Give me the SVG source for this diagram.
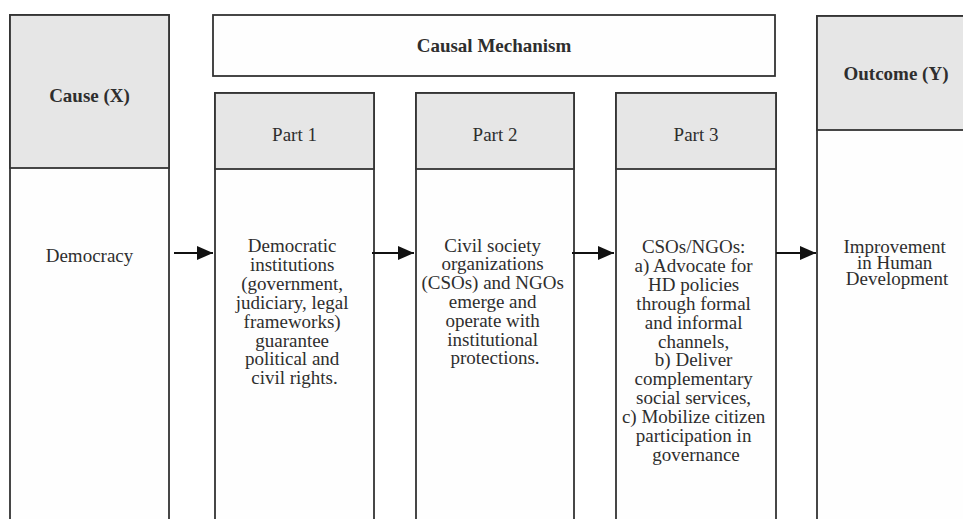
<svg xmlns="http://www.w3.org/2000/svg" width="963" height="519" viewBox="0 0 963 519">
<style>
.box{fill:#fefefe;stroke:#333;stroke-width:1.8}
.hdr{fill:#e6e6e6;stroke:#333;stroke-width:1.8}
.t{font-family:"Liberation Serif","Times New Roman",serif;font-size:19px;fill:#2e2e2e;text-anchor:middle}
.b{font-weight:bold}
.conn{stroke:#111;stroke-width:2.2;fill:none}
</style>
<defs>
<marker id="ah" markerWidth="16" markerHeight="14" refX="16" refY="7" orient="auto" markerUnits="userSpaceOnUse">
<path d="M0,0 L16,7 L0,14 Z" fill="#111"/>
</marker>
</defs>
<rect width="963" height="519" fill="#fff"/>
<g id="cause">
<rect class="box" x="10" y="15" width="159" height="520"/>
<rect class="hdr" x="10" y="15" width="159" height="153"/>
<text class="t b" x="89.5" y="101.5">Cause (X)</text>
<text class="t" x="89.5" y="262">Democracy</text>
</g>
<g id="mechanism">
<rect class="box" x="213" y="15" width="562" height="61"/>
<text class="t b" x="494" y="51.5">Causal Mechanism</text>
</g>
<g id="part1">
<rect class="box" x="215" y="93" width="159" height="442"/>
<rect class="hdr" x="215" y="93" width="159" height="76"/>
<text class="t" x="294.5" y="140.5">Part 1</text>
<text class="t" x="294.5" y="252">
<tspan x="294.5">Democratic</tspan>
<tspan x="294.5" dy="18.9">institutions</tspan>
<tspan x="294.5" dy="18.9">(government,</tspan>
<tspan x="294.5" dy="18.9">judiciary, legal</tspan>
<tspan x="294.5" dy="18.9">frameworks)</tspan>
<tspan x="294.5" dy="18.9">guarantee</tspan>
<tspan x="294.5" dy="18.9">political and</tspan>
<tspan x="294.5" dy="18.9">civil rights.</tspan>
</text>
</g>
<g id="part2">
<rect class="box" x="416" y="93" width="158" height="442"/>
<rect class="hdr" x="416" y="93" width="158" height="76"/>
<text class="t" x="495" y="140.5">Part 2</text>
<text class="t" x="495" y="251.5">
<tspan x="495">Civil society</tspan>
<tspan x="495" dy="18.8">organizations</tspan>
<tspan x="495" dy="18.8">(CSOs) and NGOs</tspan>
<tspan x="495" dy="18.8">emerge and</tspan>
<tspan x="495" dy="18.8">operate with</tspan>
<tspan x="495" dy="18.8">institutional</tspan>
<tspan x="495" dy="18.8">protections.</tspan>
</text>
</g>
<g id="part3">
<rect class="box" x="616" y="93" width="160" height="442"/>
<rect class="hdr" x="616" y="93" width="160" height="76"/>
<text class="t" x="696" y="140.5">Part 3</text>
<text class="t" x="696" y="253">
<tspan x="696">CSOs/NGOs:</tspan>
<tspan x="696" dy="18.9">a) Advocate for</tspan>
<tspan x="696" dy="18.9">HD policies</tspan>
<tspan x="696" dy="18.9">through formal</tspan>
<tspan x="696" dy="18.9">and informal</tspan>
<tspan x="696" dy="18.9">channels,</tspan>
<tspan x="696" dy="18.9">b) Deliver</tspan>
<tspan x="696" dy="18.9">complementary</tspan>
<tspan x="696" dy="18.9">social services,</tspan>
<tspan x="696" dy="18.9">c) Mobilize citizen</tspan>
<tspan x="696" dy="18.9">participation in</tspan>
<tspan x="696" dy="18.9">governance</tspan>
</text>
</g>
<g id="outcome">
<rect class="box" x="817" y="16" width="170" height="520"/>
<rect class="hdr" x="817" y="16" width="170" height="114"/>
<text class="t b" x="896" y="79.5">Outcome (Y)</text>
<text class="t" x="897" y="253">
<tspan x="897">Improvement</tspan>
<tspan x="897" dy="16">in Human</tspan>
<tspan x="897" dy="16">Development</tspan>
</text>
</g>
<g id="connectors">
<line class="conn" x1="174" y1="253" x2="213" y2="253" marker-end="url(#ah)"/>
<line class="conn" x1="372" y1="253" x2="414" y2="253" marker-end="url(#ah)"/>
<line class="conn" x1="572" y1="253" x2="614" y2="253" marker-end="url(#ah)"/>
<line class="conn" x1="776" y1="253" x2="816" y2="253" marker-end="url(#ah)"/>
</g>
</svg>
